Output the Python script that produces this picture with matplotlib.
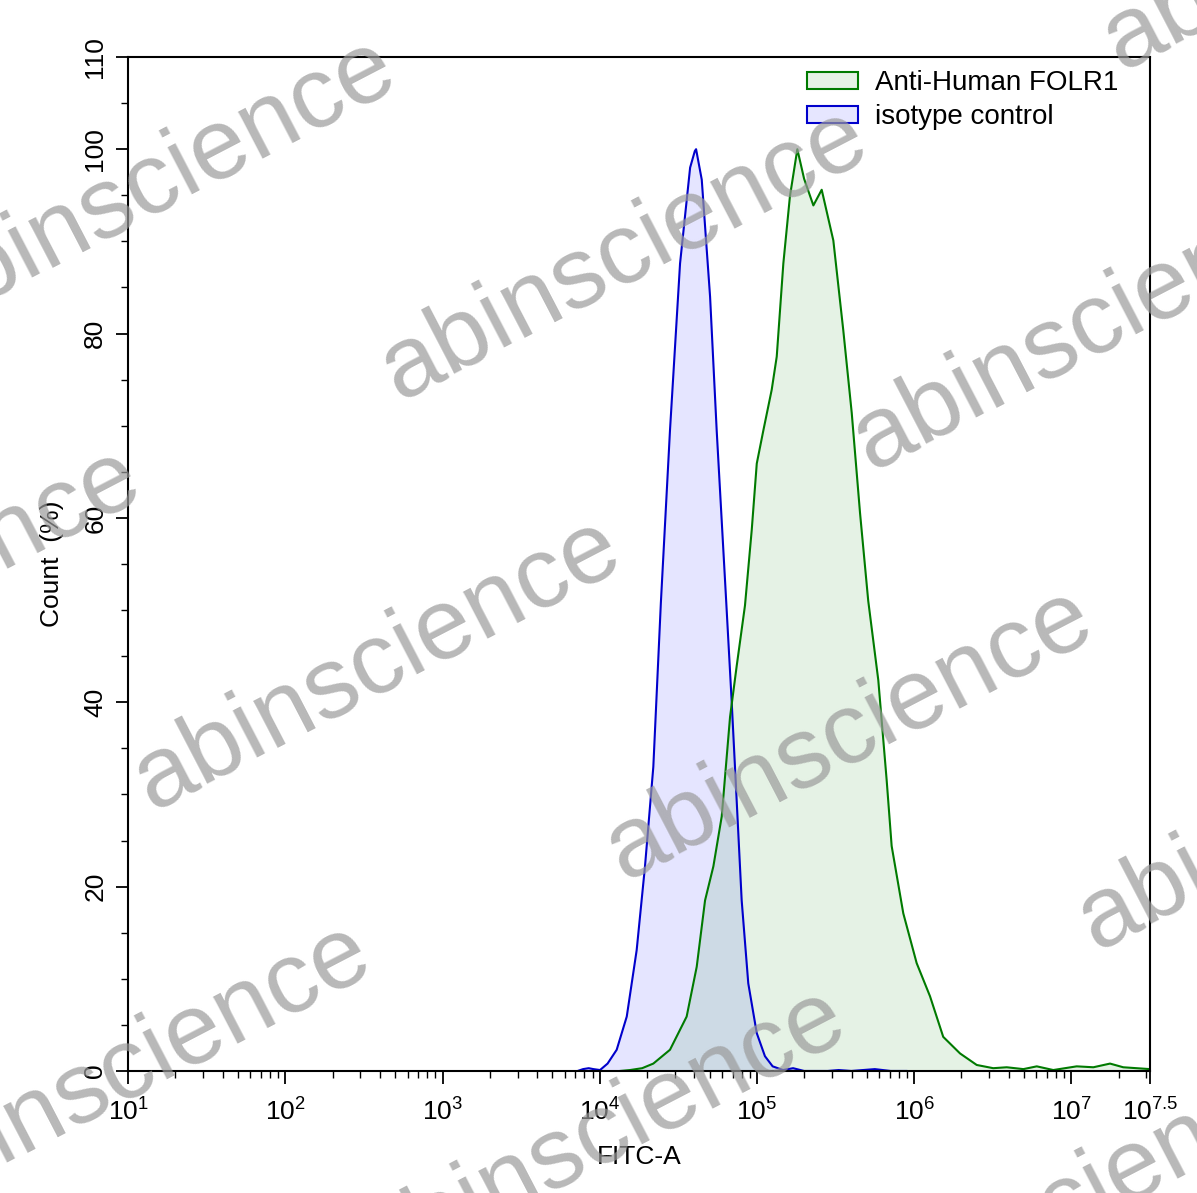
import numpy as np
import matplotlib.pyplot as plt
from matplotlib.patches import Patch
from matplotlib.ticker import FixedLocator, LogLocator, NullFormatter

plt.rcParams['font.family'] = ['Liberation Sans', 'DejaVu Sans']
plt.rcParams['mathtext.fontset'] = 'custom'
plt.rcParams['mathtext.rm'] = 'Liberation Sans'
plt.rcParams['mathtext.it'] = 'Liberation Sans'

# histogram outlines (log10 of FITC-A, count %)
iso_log = [3.86, 3.894, 3.93, 3.96, 4.002, 4.05, 4.108, 4.172, 4.235, 4.288, 4.341,
           4.389, 4.447, 4.511, 4.575, 4.605, 4.613, 4.649, 4.702, 4.744, 4.805,
           4.839, 4.871, 4.903, 4.945, 4.999, 5.051, 5.10, 5.166, 5.23, 5.30,
           5.45, 5.52, 5.60, 5.75, 5.85, 5.95]
iso_pct = [0.0, 0.2, 0.3, 0.2, 0.1, 0.8, 2.3, 5.9, 13.1, 22.2, 33.0,
           50.8, 69.5, 87.6, 98.0, 99.8, 100.0, 96.7, 84.0, 69.5, 50.8,
           40.2, 29.4, 18.5, 9.5, 4.1, 1.6, 0.5, 0.1, 0.3, 0.0,
           0.0, 0.1, 0.0, 0.2, 0.0, 0.0]

folr1_log = [4.13, 4.193, 4.27, 4.341, 4.447, 4.553, 4.617, 4.670, 4.723, 4.776,
             4.829, 4.871, 4.924, 4.967, 4.999, 5.041, 5.094, 5.126, 5.168, 5.210,
             5.257, 5.30, 5.359, 5.412, 5.486, 5.549, 5.603, 5.656, 5.708, 5.772,
             5.825, 5.857, 5.931, 6.016, 6.101, 6.185, 6.292, 6.398, 6.503, 6.589,
             6.695, 6.780, 6.885, 7.034, 7.140, 7.246, 7.330, 7.500]
folr1_pct = [0.0, 0.1, 0.3, 0.8, 2.3, 5.9, 11.3, 18.5, 22.2, 27.6,
             38.4, 43.9, 50.5, 58.7, 65.9, 69.5, 73.9, 77.5, 87.6, 94.9,
             100.0, 96.8, 93.9, 95.6, 90.1, 80.4, 71.4, 60.5, 51.0, 42.4,
             31.6, 24.4, 17.1, 11.7, 8.1, 3.7, 1.9, 0.65, 0.3, 0.4,
             0.2, 0.5, 0.1, 0.5, 0.4, 0.8, 0.4, 0.2]

x_labels = ['$10^{1}$', '$10^{2}$', '$10^{3}$', '$10^{4}$', '$10^{5}$', '$10^{6}$',
            '$10^{7}$', '$10^{7.5}$']
x_label_pos = [1, 2, 3, 4, 5, 6, 7, 7.5]
y_ticks = [0, 20, 40, 60, 80, 100, 110]

fig = plt.figure(figsize=(11.97, 11.93), dpi=100)
ax = fig.add_axes([0.107, 0.1023, 0.8537, 0.8499])

iso_x = 10 ** np.array(iso_log)
fol_x = 10 ** np.array(folr1_log)

ax.fill_between(iso_x, iso_pct, 0, color='blue', alpha=0.1, lw=0)
ax.fill_between(fol_x, folr1_pct, 0, color='green', alpha=0.1, lw=0)
ax.plot(iso_x, iso_pct, color='#0000cc', lw=1.5)
ax.plot(fol_x, folr1_pct, color='#007a00', lw=1.5)

ax.set_xscale('log')
ax.set_xlim(10, 10 ** 7.5)
ax.set_ylim(0, 110)

ax.set_xticks([10 ** p for p in x_label_pos])
ax.set_xticklabels(x_labels, fontsize=19)
ax.xaxis.set_minor_locator(LogLocator(base=10, subs=np.arange(2, 10), numticks=20))
ax.xaxis.set_minor_formatter(NullFormatter())

ax.set_yticks(y_ticks)
ax.set_yticklabels([str(v) for v in y_ticks], fontsize=19, rotation=90, va='center')
ax.yaxis.set_minor_locator(FixedLocator(np.arange(0, 111, 5)))

ax.tick_params(which='major', length=9, width=1.3, direction='out', pad=6)
ax.tick_params(axis='x', which='major', pad=11)
ax.tick_params(which='minor', length=5, width=1.0, direction='out')
for s in ax.spines.values():
    s.set_linewidth(1.5)

ax.set_xlabel('FITC-A', fontsize=19, labelpad=14)
ax.set_ylabel('Count  (%)', fontsize=19, labelpad=14)

handles = [Patch(facecolor=(0.9, 0.95, 0.9), edgecolor='#007a00', lw=1.5, label='Anti-Human FOLR1'),
           Patch(facecolor=(0.9, 0.9, 1.0), edgecolor='#0000cc', lw=1.5, label='isotype control')]
ax.legend(handles=handles, loc='upper right', frameon=False, fontsize=20,
          handlelength=1.85, handleheight=0.6, handletextpad=0.58,
          borderpad=0, borderaxespad=0, labelspacing=0.29,
          bbox_to_anchor=(0.9687, 0.987))

# watermark
wm_centers = [(153, 185), (625, 255), (378, 665), (850, 735), (1097, 325),
              (-102, 595), (128, 1070), (603, 1135), (1322, 805), (1347, -75),
              (1068, 1205)]
for cx, cy in wm_centers:
    fig.text(cx / 1197, 1 - cy / 1193, 'abinscience', fontsize=73, color='#9a9a9a',
             alpha=0.7, rotation=27.5, ha='center', va='center',
             rotation_mode='anchor', zorder=10)

fig.savefig('out.png', dpi=100)
